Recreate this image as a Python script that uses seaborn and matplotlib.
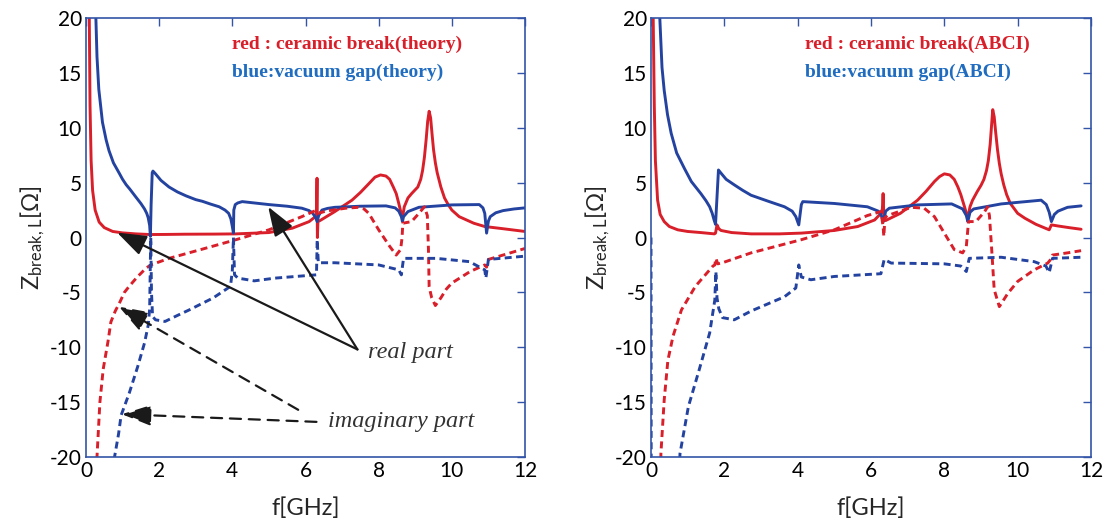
import matplotlib
matplotlib.use("Agg")
import matplotlib.pyplot as plt
import seaborn as sns

# ---------------- data: theory (left panel) ----------------
f_red_re_th = [0.06, 0.09, 0.11, 0.14, 0.18, 0.25, 0.36, 0.5, 0.73, 1.0, 1.36, 1.75,
               2.2, 2.7, 3.5, 4.1, 5.0, 5.64, 6.1, 6.27, 6.30, 6.315, 6.325, 6.34, 6.4,
               6.8, 7.27, 7.5, 7.73, 7.9, 8.05, 8.2, 8.3, 8.4, 8.48, 8.55, 8.6, 8.65,
               8.7, 8.8, 8.9, 9.07, 9.15, 9.2, 9.25, 9.3, 9.34, 9.38, 9.42, 9.46, 9.5,
               9.55, 9.6, 9.7, 9.8, 9.9, 10.0, 10.2, 10.6, 10.9, 11.4, 12.0]
z_red_re_th = [40, 20, 12, 7, 4.3, 2.5, 1.4, 0.9, 0.55, 0.42, 0.33, 0.27,
               0.28, 0.3, 0.31, 0.33, 0.45, 0.85, 1.45, 1.9, 2.1, 5.4, 0.0, 1.45, 1.55,
               2.36, 3.4, 4.1, 4.9, 5.5, 5.7, 5.6, 5.3, 4.6, 4.0, 3.1, 2.4, 1.8,
               2.8, 3.6, 4.0, 4.6, 5.3, 6.1, 7.3, 9.0, 10.6, 11.5, 10.9, 9.4, 8.0,
               6.8, 5.9, 4.6, 3.6, 3.0, 2.5, 1.9, 1.3, 1.0, 0.8, 0.55]

f_blue_re_th = [0.25, 0.27, 0.3, 0.35, 0.45, 0.55, 0.63, 0.75, 0.91, 1.0, 1.1, 1.2, 1.36,
                1.5, 1.6, 1.66, 1.70, 1.74, 1.76, 1.78, 1.81, 1.83, 1.9, 2.05, 2.27, 2.5,
                2.73, 3.0, 3.18, 3.4, 3.64, 3.8, 3.9, 3.96, 4.0, 4.03, 4.04, 4.08, 4.15,
                4.27, 5.0, 5.5, 5.9, 6.1, 6.2, 6.28, 6.32, 6.36, 6.45, 6.6, 6.8, 7.5,
                8.2, 8.45, 8.55, 8.62, 8.65, 8.68, 8.8, 9.1, 10.0, 10.75, 10.85, 10.9,
                10.95, 11.0, 11.05, 11.2, 11.4, 11.7, 12.0]
z_blue_re_th = [25, 20, 16.5, 13.5, 10.5, 8.9, 7.9, 6.8, 5.85, 5.3, 4.8, 4.4, 3.7,
                3.1, 2.6, 2.2, 1.8, 1.1, 0.1, 3.0, 5.9, 6.05, 5.8, 5.2, 4.6, 4.15,
                3.8, 3.45, 3.3, 3.05, 2.8, 2.5, 2.2, 1.7, 1.0, 0.4, 2.5, 3.0, 3.15,
                3.27, 3.0, 2.85, 2.67, 2.45, 2.2, 1.8, 1.45, 2.0, 2.5, 2.65, 2.75, 2.85,
                2.88, 2.7, 2.4, 1.9, 1.45, 1.9, 2.36, 2.75, 2.97, 3.0, 2.7, 2.2,
                0.4, 1.5, 1.9, 2.25, 2.45, 2.6, 2.7]

f_red_im_th = [0.25, 0.3, 0.38, 0.47, 0.6, 0.68, 0.8, 0.91, 1.05, 1.18, 1.4, 1.64, 1.77,
               2.27, 3.18, 4.1, 5.0, 5.9, 6.27, 6.35, 6.55, 7.1, 7.45, 7.6, 7.73, 8.0,
               8.3, 8.48, 8.6, 8.64, 8.66, 8.9, 9.1, 9.25, 9.33, 9.36, 9.38, 9.45, 9.55,
               9.7, 9.85, 10.0, 10.5, 10.9, 10.95, 11.0, 11.4, 12.0]
z_red_im_th = [-30, -20, -15, -12, -9.5, -7.7, -6.7, -6.0, -5.0, -4.45, -3.6, -2.8, -2.5,
               -1.9, -1.06, -0.2, 0.7, 1.9, 2.45, 2.2, 2.4, 2.67, 2.75, 2.6, 2.2, 0.7,
               -0.8, -1.6, -1.1, 0.0, 1.3, 1.45, 2.2, 2.8, 2.0, -1.0, -4.5, -5.5, -6.2,
               -5.5, -4.7, -4.15, -3.1, -2.5, -2.7, -2.0, -1.6, -1.0]

f_blue_im_th = [0.7, 0.78, 0.89, 0.96, 1.18, 1.41, 1.6, 1.7, 1.74, 1.76, 1.77, 1.79,
                1.82, 1.9, 2.16, 2.5, 2.82, 3.48, 3.95, 4.0, 4.03, 4.06, 4.15, 4.6, 5.17,
                6.3, 6.32, 6.35, 6.8, 8.0, 8.55, 8.62, 8.68, 9.57, 10.48, 10.9, 10.93,
                11.0, 12.0]
z_blue_im_th = [-28, -20, -17.9, -16.2, -14.2, -11.8, -9.6, -8.0, -6.5, -2.0, 0.0, -5.0,
                -7.2, -7.5, -7.65, -7.1, -6.6, -5.5, -4.45, -3.0, 0.0, -3.4, -3.7, -3.95,
                -3.7, -3.4, -0.2, -2.3, -2.3, -2.5, -2.95, -3.4, -1.9, -1.9, -2.2, -2.95,
                -3.7, -2.0, -1.7]

# ---------------- data: ABCI (right panel) ----------------
f_red_re_abci = [0.03, 0.06, 0.09, 0.12, 0.18, 0.25, 0.36, 0.5, 0.73, 1.0, 1.36, 1.73,
                 1.76, 1.8, 1.85, 1.91, 2.2, 2.73, 3.5, 4.1, 5.0, 5.64, 6.1, 6.27, 6.31,
                 6.33, 6.35, 6.4, 6.8, 7.27, 7.5, 7.73, 7.87, 8.0, 8.15, 8.27, 8.37,
                 8.45, 8.55, 8.64, 8.7, 8.77, 8.9, 9.0, 9.08, 9.15, 9.2, 9.25, 9.29,
                 9.32, 9.36, 9.4, 9.45, 9.5, 9.55, 9.62, 9.7, 9.8, 10.0, 10.2, 10.5,
                 10.86, 10.92, 11.1, 11.4, 11.73]
z_red_re_abci = [40, 20, 12, 7, 3.4, 2.1, 1.45, 1.0, 0.7, 0.55, 0.45, 0.33,
                 0.4, 1.15, 0.8, 0.64, 0.45, 0.33, 0.33, 0.4, 0.64, 1.0, 1.6, 2.2, 2.6,
                 4.0, 2.0, 1.55, 2.2, 3.4, 4.2, 5.1, 5.55, 5.8, 5.7, 5.3, 4.6,
                 3.9, 2.8, 1.75, 2.8, 3.4, 4.2, 4.75, 5.3, 6.1, 7.0, 8.5, 10.3,
                 11.65, 11.0, 9.6, 8.0, 6.75, 5.8, 4.8, 3.9, 3.1, 2.2, 1.75, 1.2,
                 0.7, 1.15, 1.05, 0.9, 0.75]

f_blue_re_abci = [0.2, 0.24, 0.3, 0.36, 0.45, 0.55, 0.7, 0.91, 1.1, 1.36, 1.5, 1.6, 1.67,
                  1.72, 1.76, 1.84, 1.9, 2.05, 2.27, 2.5, 2.73, 3.2, 3.64, 3.85, 3.95,
                  4.03, 4.1, 4.14, 5.0, 5.9, 6.2, 6.27, 6.34, 6.4, 6.5, 7.27, 8.2, 8.5,
                  8.6, 8.64, 8.7, 8.8, 9.55, 10.64, 10.78, 10.86, 10.92, 11.0, 11.1,
                  11.36, 11.73]
z_blue_re_abci = [25, 20, 15.5, 13.4, 11.2, 9.5, 7.7, 6.3, 5.1, 4.0, 3.35, 2.8, 2.2,
                  1.6, 1.2, 6.15, 5.9, 5.3, 4.8, 4.3, 3.85, 3.3, 2.8, 2.4, 1.9,
                  1.15, 3.0, 3.27, 3.1, 2.8, 2.4, 2.1, 1.45, 2.4, 2.67, 2.97, 3.06, 2.6,
                  2.0, 1.45, 2.3, 2.6, 3.06, 3.4, 3.0, 2.3, 1.45, 2.1, 2.4,
                  2.75, 2.88]

f_red_im_abci = [0.24, 0.27, 0.36, 0.46, 0.6, 0.83, 1.21, 1.69, 1.74, 1.77, 1.82, 1.95,
                 2.73, 4.1, 5.0, 5.9, 6.27, 6.33, 6.35, 6.38, 6.45, 7.1, 7.45, 7.73, 8.0,
                 8.27, 8.5, 8.6, 8.66, 8.86, 9.1, 9.18, 9.23, 9.29, 9.36, 9.5, 9.73,
                 10.0, 10.45, 10.82, 10.9, 10.95, 11.36, 11.73]
z_red_im_abci = [-30, -19.7, -14.8, -11.2, -9.0, -6.6, -4.45, -2.6, -2.5, -1.9, -2.4, -2.3,
                 -1.4, -0.2, 0.7, 2.0, 2.36, 1.0, 0.1, 1.8, 2.0, 2.75, 2.67, 1.9, 0.4,
                 -1.1, -1.4, -0.8, 1.45, 1.45, 2.36, 2.8, 2.0, -1.0, -4.75, -6.3, -5.1,
                 -4.0, -2.95, -2.33, -2.0, -1.6, -1.4, -1.2]

f_blue_im_abci = [0.0, 0.01, 0.7, 0.79, 1.02, 1.31, 1.6, 1.74, 1.77, 1.8, 1.85, 1.95,
                  2.27, 2.73, 3.64, 3.95, 4.03, 4.1, 4.36, 5.0, 6.27, 6.36, 6.55, 8.0,
                  8.45, 8.6, 8.68, 9.55, 10.45, 10.77, 10.86, 10.95, 11.73]
z_blue_im_abci = [0.0, -40, -30, -19.7, -15.4, -12.1, -8.7, -5.7, -3.1, -5.5, -6.5, -7.3,
                  -7.5, -6.7, -5.4, -4.6, -2.5, -3.6, -3.85, -3.55, -3.3, -2.0, -2.33, -2.4,
                  -2.6, -3.1, -1.9, -1.8, -2.2, -2.6, -3.2, -1.9, -1.8]

x_ticks = [0, 2, 4, 6, 8, 10, 12]
y_ticks = [-20, -15, -10, -5, 0, 5, 10, 15, 20]

RED = "#d81f2a"
BLUE = "#2443a0"
BLUE_TEXT = "#1f6cc0"
SPINE = "#3355a8"

sns.set_style("white")
plt.rcParams["font.family"] = ["Lato", "DejaVu Sans"]
plt.rcParams["axes.unicode_minus"] = False
plt.rcParams["mathtext.default"] = "regular"

fig = plt.figure(figsize=(11.06, 5.27), dpi=100)
ax_l = fig.add_axes([86 / 1106, 70 / 527, 439 / 1106, 439 / 527])
ax_r = fig.add_axes([651 / 1106, 70 / 527, 440 / 1106, 439 / 527])

dot = (0, (2.4, 1.5))


def draw_panel(ax, rr, br, ri, bi, tag):
    sns.lineplot(x=rr[0], y=rr[1], ax=ax, color=RED, lw=2.1, estimator=None, sort=False)
    sns.lineplot(x=br[0], y=br[1], ax=ax, color=BLUE, lw=2.1, estimator=None, sort=False)
    sns.lineplot(x=ri[0], y=ri[1], ax=ax, color=RED, lw=2.1, linestyle=dot,
                 estimator=None, sort=False)
    sns.lineplot(x=bi[0], y=bi[1], ax=ax, color=BLUE, lw=2.1, linestyle=dot,
                 estimator=None, sort=False)
    ax.set_xlim(0, 12)
    ax.set_ylim(-20, 20)
    ax.set_xticks(x_ticks)
    ax.set_yticks(y_ticks)
    ax.tick_params(direction="in", length=6, width=1, color=SPINE, top=True,
                   right=True, labelsize=15, labelcolor="black", pad=3)
    for s in ax.spines.values():
        s.set_color(SPINE)
        s.set_linewidth(1.2)
    ax.set_xlabel("f[GHz]", fontsize=17, labelpad=12)
    ax.set_ylabel("Z$_{break,L}$[Ω]", fontsize=17, labelpad=2)
    x0 = 4.0 if tag == "theory" else 4.2
    ax.text(x0, 17.6, f"red : ceramic break({tag})",
            color=RED, fontsize=14, fontweight="bold", family="Liberation Serif",
            va="center")
    ax.text(x0, 15.05, f"blue:vacuum gap({tag})",
            color=BLUE_TEXT, fontsize=14, fontweight="bold", family="Liberation Serif",
            va="center")


draw_panel(ax_l, (f_red_re_th, z_red_re_th), (f_blue_re_th, z_blue_re_th),
           (f_red_im_th, z_red_im_th), (f_blue_im_th, z_blue_im_th), "theory")
draw_panel(ax_r, (f_red_re_abci, z_red_re_abci), (f_blue_re_abci, z_blue_re_abci),
           (f_red_im_abci, z_red_im_abci), (f_blue_im_abci, z_blue_im_abci), "ABCI")

# annotation labels and pointer arrows on the theory panel
ax_l.text(7.72, -10.5, "real part", fontsize=17.5, style="italic", color="#333333",
          family="Liberation Serif", va="center")
ax_l.text(6.62, -16.8, "imaginary part", fontsize=17.5, style="italic", color="#333333",
          family="Liberation Serif", va="center")

solid_arrow = dict(arrowstyle="-|>,head_length=0.9,head_width=0.32", color="#1a1a1a",
                   lw=1.6, mutation_scale=20, shrinkA=0, shrinkB=0)
dash_arrow = dict(solid_arrow, linestyle=(0, (5, 3.5)))
ax_l.annotate("", xy=(0.85, 0.45), xytext=(7.42, -10.2), arrowprops=solid_arrow)
ax_l.annotate("", xy=(4.98, 2.8), xytext=(7.42, -10.2), arrowprops=solid_arrow)
ax_l.annotate("", xy=(0.9, -6.3), xytext=(5.8, -15.7), arrowprops=dash_arrow)
ax_l.annotate("", xy=(0.98, -16.1), xytext=(6.3, -16.8), arrowprops=dash_arrow)

fig.savefig("out.png", dpi=100)
